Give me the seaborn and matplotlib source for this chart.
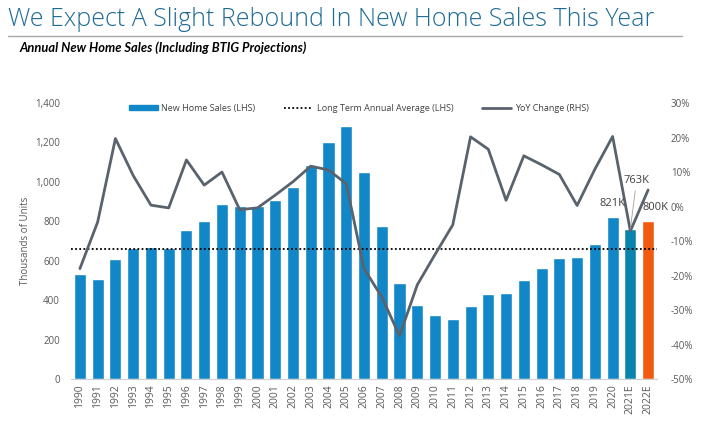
import numpy as np
import pandas as pd
import matplotlib
matplotlib.use("Agg")
import matplotlib.pyplot as plt
from matplotlib.lines import Line2D
from matplotlib.patches import Patch
from matplotlib.ticker import FuncFormatter, MultipleLocator
import seaborn as sns

# data
years = ["1990", "1991", "1992", "1993", "1994", "1995", "1996", "1997", "1998", "1999",
         "2000", "2001", "2002", "2003", "2004", "2005", "2006", "2007", "2008", "2009",
         "2010", "2011", "2012", "2013", "2014", "2015", "2016", "2017", "2018", "2019",
         "2020", "2021E", "2022E"]
sales = [534, 509, 610, 666, 670, 667, 757, 804, 886, 880,
         877, 908, 973, 1086, 1203, 1283, 1051, 776, 485, 375,
         323, 306, 368, 429, 437, 501, 561, 613, 617, 683,
         821, 763, 800]
yoy = [-18.0, -4.5, 19.7, 9.0, 0.4, -0.4, 13.5, 6.2, 10.0, -0.9,
       -0.4, 3.3, 7.2, 11.7, 10.6, 6.6, -18.0, -26.2, -37.5, -22.7,
       -13.9, -5.3, 20.2, 16.6, 1.8, 14.7, 12.1, 9.3, 0.3, 10.8,
       20.3, -7.1, 4.8]
long_term_avg = 660
labelled = {"2020": "821K", "2021E": "763K", "2022E": "800K"}

blue = "#1287c8"
teal = "#0a84ad"
orange = "#f25a0f"
gray_line = "#59636e"
text_gray = "#595959"

df = pd.DataFrame({"year": years, "sales": sales, "yoy": yoy})
df["pos"] = np.arange(len(df))
colors = [blue] * (len(years) - 2) + [teal, orange]

sns.set_style("white")
plt.rcParams["font.family"] = ["Open Sans", "DejaVu Sans"]

fig = plt.figure(figsize=(7.06, 4.36), dpi=100)
ax = fig.add_axes([0.1006, 0.1307, 0.83, 0.633])

# bars (left axis)
sns.barplot(data=df, x="year", y="sales", hue="year", palette=colors,
            legend=False, width=0.68, ax=ax, saturation=1)

ax.set_xlim(-0.5, len(years) - 0.5)
ax.set_ylim(0, 1400)
ax.yaxis.set_major_locator(MultipleLocator(200))
ax.yaxis.set_major_formatter(FuncFormatter(lambda v, p: f"{int(v):,}"))
ax.set_xlabel("")
ax.set_ylabel("Thousands of Units", fontsize=7, color=text_gray, labelpad=3)
ax.tick_params(axis="y", length=0, labelsize=7, labelcolor=text_gray, pad=8)
ax.tick_params(axis="x", which="major", length=0, labelsize=7.5, labelcolor=text_gray,
               rotation=90, pad=4)
ax.set_xticks(np.arange(-0.5, len(years)), minor=True)
ax.tick_params(axis="x", which="minor", length=4, color="#d0d0d0", width=0.8)
for s in ["left", "right", "top"]:
    ax.spines[s].set_visible(False)
ax.spines["bottom"].set_color("#d0d0d0")

# yoy line (right axis), drawn over the bars
ax2 = ax.twinx()
sns.lineplot(data=df, x="pos", y="yoy", ax=ax2, color=gray_line, linewidth=2, sort=False)
ax2.set_ylim(-50, 30)
ax2.yaxis.set_major_locator(MultipleLocator(10))
ax2.yaxis.set_major_formatter(FuncFormatter(lambda v, p: f"{int(v)}%"))
ax2.set_ylabel("")
ax2.set_xlabel("")
ax2.tick_params(axis="y", length=0, labelsize=7, labelcolor=text_gray, pad=10)
for s in ["left", "right", "top", "bottom"]:
    ax2.spines[s].set_visible(False)
ax2.set_xlim(-0.5, len(years) - 0.5)

# long term average, in LHS units but on the top axes so it sits over the bars
ax2.plot([-0.5, len(years) - 0.5], [long_term_avg, long_term_avg],
         transform=ax.transData, color="black", linestyle=(0, (1, 1.3)),
         linewidth=1.3, zorder=1)

# value labels
for yr, txt in labelled.items():
    i = years.index(yr)
    if yr == "2021E":
        ax2.annotate(txt, xy=(i, sales[i]), xycoords=ax.transData,
                     xytext=(i + 0.35, sales[i] + 215), textcoords=ax.transData,
                     ha="center", va="bottom", fontsize=8, color="#404040", zorder=5,
                     arrowprops=dict(arrowstyle="-", color="#a0a0a0", lw=0.6,
                                     shrinkA=1, shrinkB=0))
    else:
        dx = 5 if yr == "2022E" else 0
        ax2.annotate(txt, xy=(i, sales[i]), xycoords=ax.transData,
                     xytext=(dx, 6), textcoords="offset points",
                     ha="center", va="bottom", fontsize=8, color="#404040", zorder=5)

handles = [Patch(color=blue, label="New Home Sales (LHS)"),
           Line2D([], [], color="black", linestyle=(0, (1, 1.3)), lw=1.3,
                  label="Long Term Annual Average (LHS)"),
           Line2D([], [], color=gray_line, lw=2, label="YoY Change (RHS)")]
fig.legend(handles=handles, loc="center", bbox_to_anchor=(0.508, 0.752), ncol=3,
           frameon=False, fontsize=6.5, handlelength=3.2, handleheight=0.5,
           columnspacing=3.2, handletextpad=0.4, labelcolor="#404040")

fig.text(0.011, 0.956, "We Expect A Slight Rebound In New Home Sales This Year",
         fontsize=18, color="#1e6b94", ha="left", va="center", fontweight="light")
fig.add_artist(Line2D([0.012, 0.966], [0.918, 0.918], color="#a6a6a6", lw=1))
fig.text(0.027, 0.89, "Annual New Home Sales (Including BTIG Projections)",
         fontsize=9.3, color="black", ha="left", va="center",
         fontweight="bold", fontstyle="italic", family=["Lato", "DejaVu Sans"])

fig.savefig("out.png", dpi=100)
